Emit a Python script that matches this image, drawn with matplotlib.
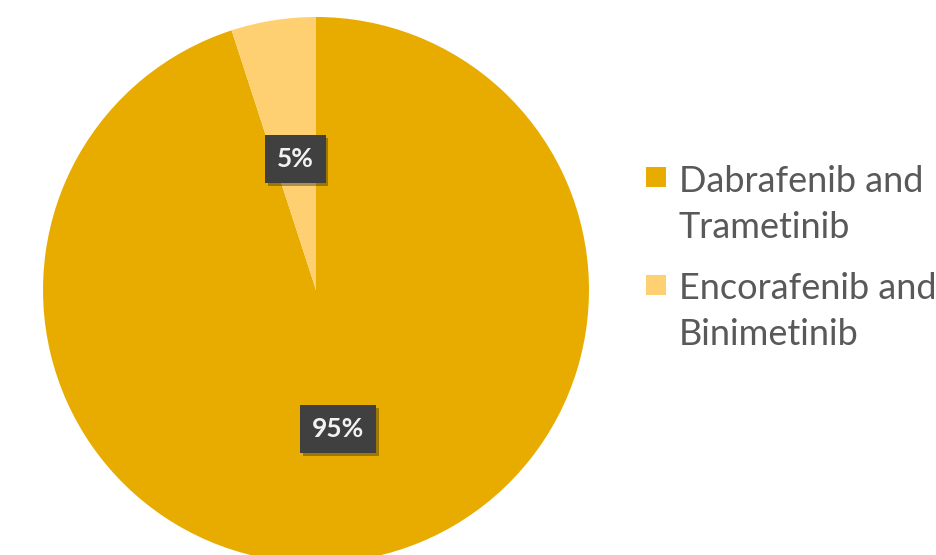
import matplotlib.pyplot as plt
import matplotlib.patheffects as pe
from matplotlib.patches import Rectangle

labels = ["Dabrafenib and\nTrametinib", "Encorafenib and\nBinimetinib"]
shares = [95, 5]
colors = ["#E8AC00", "#FFD072"]

plt.rcParams['font.family'] = ['Lato', 'DejaVu Sans']

W, H = 937, 555
fig = plt.figure(figsize=(W / 100, H / 100), dpi=100)
ax = fig.add_axes([0.0459, -0.0144, 0.5827, 0.9838])

wedges, texts, autotexts = ax.pie(
    shares, colors=colors, startangle=90, counterclock=False,
    autopct=lambda p: f"{p:.0f}%", pctdistance=0.5,
    wedgeprops=dict(linewidth=0),
    textprops=dict(color="#F2F2F2", fontsize=19, fontweight="bold"),
)
# nudge the percentage labels a little along their radius
for t, d in zip(autotexts, [0.515, 0.485]):
    x, y = t.get_position()
    t.set_position((x / 0.5 * d, y / 0.5 * d))
    t.set_bbox(dict(boxstyle="square,pad=0.45", facecolor="#404040", edgecolor="none"))
    t.get_bbox_patch().set_path_effects([
        pe.SimplePatchShadow(offset=(2, -2), alpha=0.35),
        pe.Normal(),
    ])
ax.set_xlim(-1, 1)
ax.set_ylim(-1, 1)
ax.set_aspect("equal")

# legend drawn by hand so the swatch sits on the first text line
for i, (lab, col) in enumerate(zip(labels, colors)):
    top = 167 + i * 108
    fig.patches.append(Rectangle((646 / W, 1 - (top + 20) / H), 20 / W, 20 / H,
                                 transform=fig.transFigure, facecolor=col,
                                 edgecolor="none"))
    for j, line in enumerate(lab.split("\n")):
        base = 192 + i * 107 + j * 46
        fig.text(679 / W, 1 - base / H, line, fontsize=26, color="#595959",
                 va="baseline", ha="left")

fig.savefig("out.png", dpi=100)
